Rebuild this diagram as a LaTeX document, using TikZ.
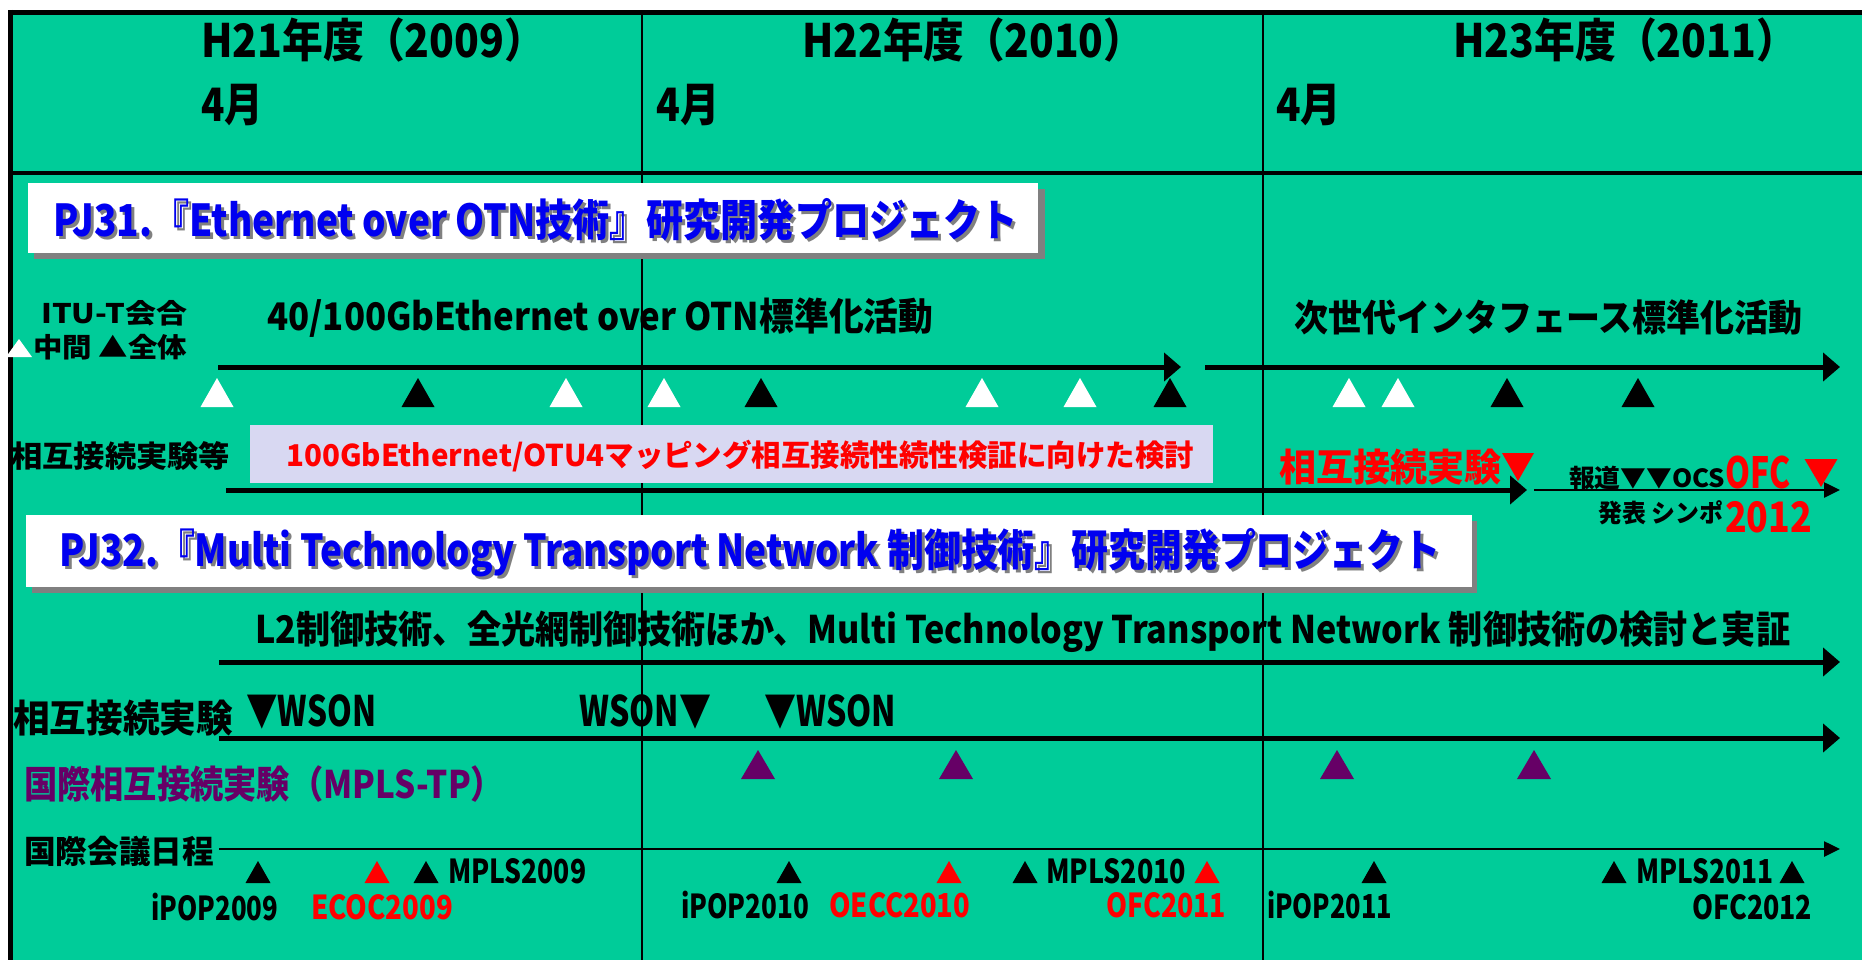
\documentclass[tikz,border=0pt]{standalone}
\usepackage{fontspec}
\setmainfont{Noto Sans CJK JP}
\usetikzlibrary{arrows.meta}
\definecolor{bggreen}{RGB}{0,204,153}
\definecolor{lav}{RGB}{216,216,242}
\definecolor{ttlblue}{RGB}{0,0,240}
\definecolor{shadowgray}{RGB}{128,128,128}
\definecolor{purp}{RGB}{102,0,102}
\definecolor{myred}{RGB}{255,0,0}
\newcommand\T[7]{\node[txt,text=#6] (#1) at (#2,#3) {\fontsize{#5pt}{#5pt}\selectfont\resizebox{#4pt}{\height}{#7}};}
\newcommand\utri[5]{\fill[#5] ({#1-#3},#2) -- ({#1+#3},#2) -- (#1,{#2-#4}) -- cycle;}
\newcommand\dtri[5]{\fill[#5] ({#1-#3},#2) -- ({#1+#3},#2) -- (#1,{#2+#4}) -- cycle;}
\begin{document}
\begin{tikzpicture}[x=1pt,y=-1pt,
  txt/.style={anchor=west,inner sep=0pt,font=\bfseries},
  bigarrow/.style={line width=5pt,-{Triangle[length=17pt,width=28pt]}},
  thinarrow/.style={line width=2.5pt,-{Triangle[length=16pt,width=15pt]}},
  boxshadow/.style={fill=shadowgray},
  titlebox/.style={fill=white}]
\useasboundingbox (0,0) rectangle (1862,960);
\fill[white] (0,0) rectangle (1862,960);
\fill[bggreen] (8,10) rectangle (1862,960);
% frame lines
\draw[line width=5pt] (8,12.5) -- (1862,12.5);
\draw[line width=5pt] (10.5,10) -- (10.5,960);
\draw[line width=4pt] (8,173.5) -- (1862,173.5);
\draw[line width=2.5pt] (642,12) -- (642,960);
\draw[line width=2.5pt] (1263,12) -- (1263,960);
% header
\T{h1}{201}{40}{344}{46}{black}{H21年度（2009）}
\T{h2}{802}{40}{342}{46}{black}{H22年度（2010）}
\T{h3}{1453}{40}{344}{46}{black}{H23年度（2011）}
\T{m1}{201}{105}{62}{46}{black}{4月}
\T{m2}{656}{105}{63}{46}{black}{4月}
\T{m3}{1276}{105}{65}{46}{black}{4月}
% PJ31 box
\fill[boxshadow] (34,189) rectangle (1045,259);
\fill[titlebox] (28,183) rectangle (1038,253);
\T{pj31s}{56}{223}{964}{44}{shadowgray}{PJ31.『Ethernet over OTN技術』研究開発プロジェクト}
\T{pj31}{53}{220}{964}{44}{ttlblue}{PJ31.『Ethernet over OTN技術』研究開発プロジェクト}
% ITU-T legend
\T{itu1}{41}{313}{146}{27}{black}{ITU-T会合}
\T{itu2}{33}{347}{154}{27}{black}{中間 ▲全体}
\fill[white] (6,357) -- (32,357) -- (19,339) -- cycle;
\T{std1}{267}{318}{666}{38}{black}{40/100GbEthernet over OTN標準化活動}
\T{std2}{1294}{318}{508}{37}{black}{次世代インタフェース標準化活動}
\coordinate (a1s) at (218,367); \coordinate (a1e) at (1181,367);
\coordinate (a2s) at (1205,367); \coordinate (a2e) at (1840,367);
\draw[bigarrow] (a1s) -- (a1e);
\draw[bigarrow] (a2s) -- (a2e);
% ITU meeting triangles
\foreach \x in {217,566,664,982,1080,1349,1398} {\utri{\x}{407}{16.5}{29}{white}}
\foreach \x in {418,761,1170,1507,1638} {\utri{\x}{407}{16.5}{29}{black}}
% interconnection row
\T{sogo1}{11}{456}{219}{30}{black}{相互接続実験等}
\fill[lav] (250,425) rectangle (1213,483);
\T{lavt}{286}{456}{908}{30}{myred}{100GbEthernet/OTU4マッピング相互接続性続性検証に向けた検討}
\T{sogored}{1279}{467}{222}{38}{myred}{相互接続実験}
\dtri{1518}{453}{16}{28}{myred}
\coordinate (a3s) at (226,490); \coordinate (a3e) at (1527,490);
\coordinate (a4s) at (1534,490); \coordinate (a4e) at (1840,490);
\draw[bigarrow] (a3s) -- (a3e);
\draw[thinarrow] (a4s) -- (a4e);
\T{hodo}{1569}{478}{156}{25}{black}{報道▼▼OCS}
\T{ofc}{1725}{473}{65}{43}{myred}{OFC}
\dtri{1821}{459}{16.5}{28}{myred}
\T{happyo}{1598}{513}{125}{25}{black}{発表 シンポ}
\T{y2012}{1725}{517}{87}{42}{myred}{2012}
% PJ32 box
\fill[boxshadow] (32,521) rectangle (1477,593);
\fill[titlebox] (26,515) rectangle (1472,587);
\T{pj32s}{62}{556}{1381}{44}{shadowgray}{PJ32.『Multi Technology Transport Network 制御技術』研究開発プロジェクト}
\T{pj32}{59}{553}{1381}{44}{ttlblue}{PJ32.『Multi Technology Transport Network 制御技術』研究開発プロジェクト}
\T{l2}{255}{632}{1535}{38}{black}{L2制御技術、全光網制御技術ほか、Multi Technology Transport Network 制御技術の検討と実証}
\coordinate (a5s) at (219,662); \coordinate (a5e) at (1840,662);
\draw[bigarrow] (a5s) -- (a5e);
\T{sogo2}{13}{718}{220}{38}{black}{相互接続実験}
\T{w1}{246}{712}{130}{42}{black}{▼WSON}
\T{w2}{579}{712}{132}{42}{black}{WSON▼}
\T{w3}{764}{712}{132}{42}{black}{▼WSON}
\coordinate (a6s) at (219,738); \coordinate (a6e) at (1840,738);
\draw[bigarrow] (a6s) -- (a6e);
\foreach \x in {758,956,1337,1534} {\utri{\x}{779}{17}{29}{purp}}
\T{mplstp}{24}{784}{480}{38}{purp}{国際相互接続実験（MPLS-TP）}
% conferences
\T{kaigi}{24}{851}{190}{32}{black}{国際会議日程}
\coordinate (a7s) at (219,849); \coordinate (a7e) at (1840,849);
\draw[thinarrow] (a7s) -- (a7e);
\foreach \x in {258,426,789,1025,1374,1614,1792} {\utri{\x}{883}{12.5}{22}{black}}
\foreach \x in {377,949,1207} {\utri{\x}{883}{12.5}{22}{myred}}
\T{c1}{448}{871}{138}{33}{black}{MPLS2009}
\T{c2}{151}{907}{127}{33}{black}{iPOP2009}
\T{c3}{311}{907}{142}{33}{myred}{ECOC2009}
\T{c4}{681}{905}{128}{33}{black}{iPOP2010}
\T{c5}{829}{905}{141}{33}{myred}{OECC2010}
\T{c6}{1046}{871}{140}{33}{black}{MPLS2010}
\T{c7}{1106}{905}{120}{33}{myred}{OFC2011}
\T{c8}{1267}{905}{125}{33}{black}{iPOP2011}
\T{c9}{1636}{871}{137}{33}{black}{MPLS2011}
\T{c10}{1692}{907}{120}{33}{black}{OFC2012}
\end{tikzpicture}
\end{document}
